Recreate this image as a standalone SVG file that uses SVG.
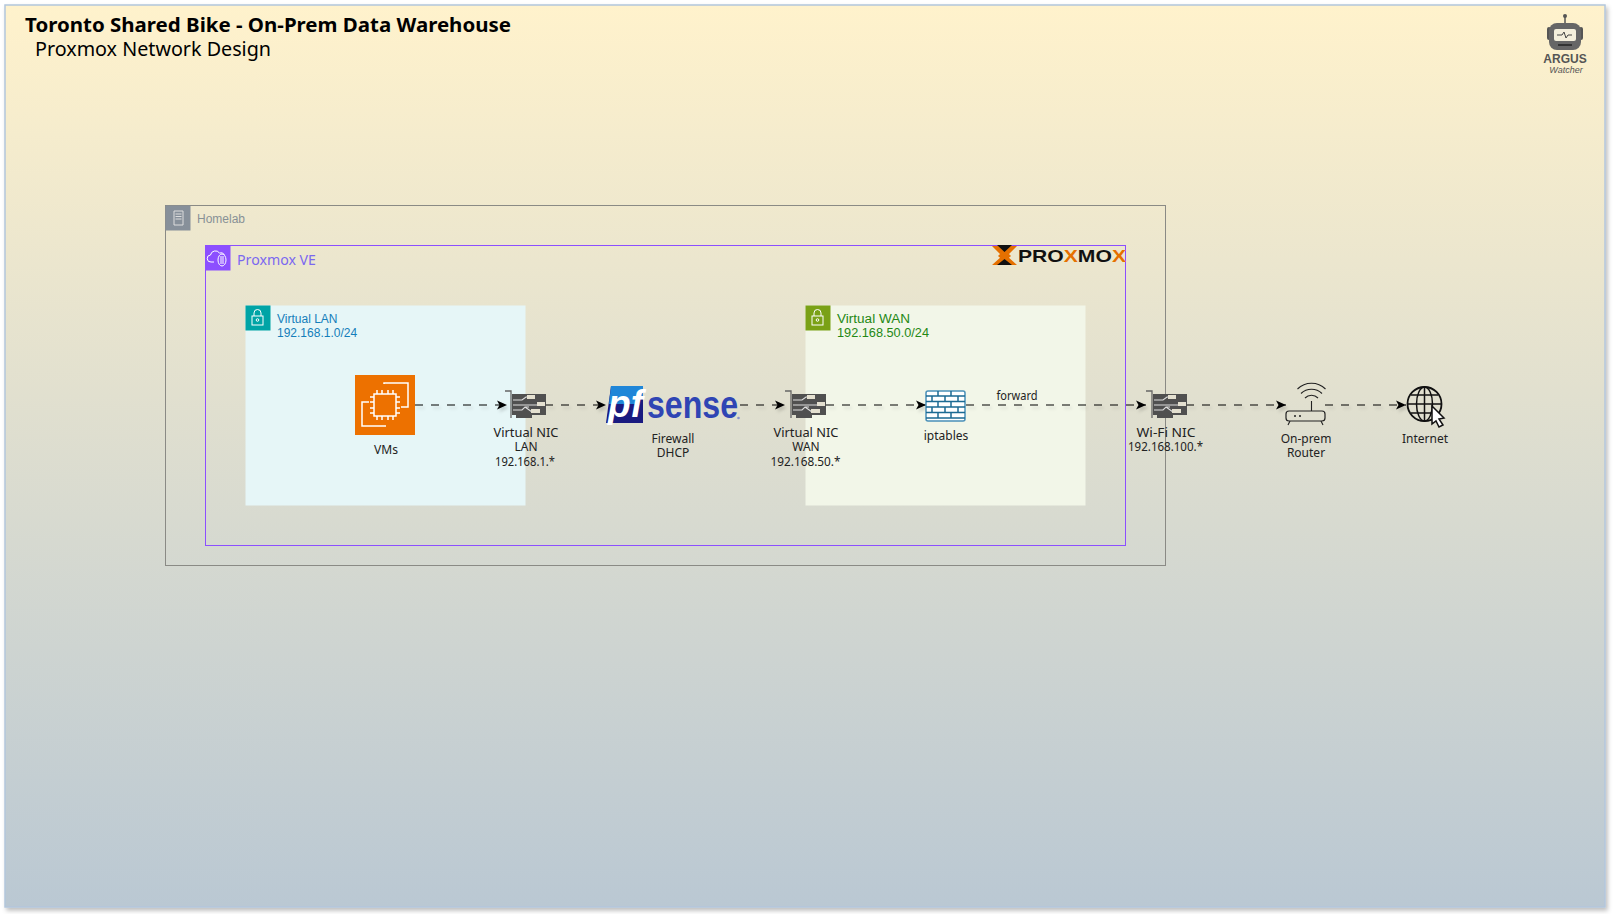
<svg xmlns="http://www.w3.org/2000/svg" width="1613" height="914" viewBox="0 0 1613 914">
<style>
text{font-family:"Noto Sans","DejaVu Sans",sans-serif}
.l{font-size:12px;fill:#222;text-anchor:middle}
.h{font-family:"Liberation Sans",Arial,sans-serif;font-size:12px}
.b{font-family:"Liberation Sans",Arial,sans-serif;font-weight:700}
.e{fill:none;stroke:#000;stroke-width:1.200;stroke-dasharray:8 8;marker-end:url(#a)}
.ic{fill:none;stroke:#fff;stroke-width:1}
</style>
<defs>
<linearGradient id="bg" x1="0" y1="0" x2="0" y2="1"><stop offset="0" stop-color="#fff2cc"/><stop offset="1" stop-color="#bac8d3"/></linearGradient>
<filter id="sh" x="-5%" y="-5%" width="110%" height="110%"><feDropShadow dx="2" dy="3" stdDeviation="2" flood-color="#000" flood-opacity=".25"/></filter>
<filter id="ls" filterUnits="userSpaceOnUse" x="400" y="380" width="1030" height="50"><feDropShadow dx="2" dy="3" stdDeviation="1.500" flood-color="#000" flood-opacity=".15"/></filter>
<marker id="a" markerWidth="11" markerHeight="10" refX="10" refY="5" orient="auto" markerUnits="userSpaceOnUse"><path d="M0 .5L10 5L0 9.500L2.500 5Z" fill="#000"/></marker>
<g id="nic">
<path d="M0 0H6V27" fill="none" stroke="#666" stroke-width="1.300"/>
<path d="M7 3H41V24H27V27H11V24H7Z" fill="#505050"/>
<path d="M8 9H17L21 6H24M8 14H32M8 19H17L20 16H24M20 16L27 21" stroke="#ddd" stroke-width="1.100" fill="none"/>
<path d="M22 4h8v4h-8zM32 11h8v4h-8zM26 18h9v4h-9z" fill="#e4e0d0"/>
</g>
</defs>

<g id="page"><rect x="5" y="5" width="1600" height="902" fill="url(#bg)" stroke="#b3c6dc" stroke-width="1.500" filter="url(#sh)"/></g>

<g id="title">
<text x="25" y="32" font-size="19" font-weight="700" fill="#000" textLength="486" lengthAdjust="spacingAndGlyphs">Toronto Shared Bike - On-Prem Data Warehouse</text>
<text x="35" y="56" font-size="19" fill="#000" textLength="236" lengthAdjust="spacingAndGlyphs">Proxmox Network Design</text>
</g>

<g id="homelab">
<rect x="165.500" y="205.500" width="1000" height="360" fill="none" stroke="#8a8a85" stroke-width="1"/>
<rect x="165.500" y="205.500" width="25" height="25" fill="#87909a"/>
<path d="M174 211h9v14h-9zM175.500 214h6M175.500 216.500h6M175.500 219h6" fill="none" stroke="#ddd" stroke-width="1"/>
<text class="h" x="197" y="223" fill="#879196">Homelab</text>
</g>

<g id="proxmox-ve">
<rect x="205.500" y="245.500" width="920" height="300" fill="none" stroke="#8c4fff" stroke-width="1"/>
<rect x="205.500" y="245.500" width="25" height="25" fill="#8c4fff"/>
<path class="ic" d="M214 262h-3a3.500 3.500 0 0 1 -.5-7 5 5 0 0 1 9-2 4 4 0 0 1 5 2"/>
<ellipse class="ic" cx="222" cy="260" rx="4" ry="6"/><path class="ic" d="M221 256v8M223 256v8"/>
<text x="237" y="265" font-size="14" fill="#7b68f0" textLength="79" lengthAdjust="spacingAndGlyphs">Proxmox VE</text>
<g id="proxmox-logo">
<path d="M992 246H1001L1011 256L1001 265H992L1002 256Z" fill="#e57000"/>
<path d="M1017 246H1008L998 256L1008 265H1017L1007 256Z" fill="#e57000"/>
<path d="M997 245H1012L1004.500 252Z M997 265H1012L1004.500 259Z" fill="#111"/>
<text class="b" x="1018" y="262" font-size="17" fill="#111" textLength="108" lengthAdjust="spacingAndGlyphs">PRO<tspan fill="#e57000">X</tspan>MO<tspan fill="#e57000">X</tspan></text>
</g>
</g>

<g id="virtual-lan">
<rect x="245.500" y="305.500" width="280" height="200" fill="#e6f6f7"/>
<rect x="245.500" y="305.500" width="25" height="25" fill="#00a4a6"/>
<rect class="ic" x="252" y="316" width="11" height="9"/><path class="ic" d="M254 316v-3a3.500 3.500 0 0 1 7 0v3"/><circle class="ic" cx="257.500" cy="320" r="1.300"/>
<text class="h" x="277" y="323" fill="#147eba">Virtual LAN</text>
<text class="h" x="277" y="337" fill="#147eba">192.168.1.0/24</text>
</g>

<g id="virtual-wan">
<rect x="805.500" y="305.500" width="280" height="200" fill="#f2f6e8"/>
<rect x="805.500" y="305.500" width="25" height="25" fill="#7aa116"/>
<rect class="ic" x="812" y="316" width="11" height="9"/><path class="ic" d="M814 316v-3a3.500 3.500 0 0 1 7 0v3"/><circle class="ic" cx="817.500" cy="320" r="1.300"/>
<text class="h" x="837" y="323" fill="#248814" textLength="73" lengthAdjust="spacingAndGlyphs">Virtual WAN</text>
<text class="h" x="837" y="337" fill="#248814" textLength="92" lengthAdjust="spacingAndGlyphs">192.168.50.0/24</text>
</g>

<g id="connectors" filter="url(#ls)">
<path class="e" d="M415 405H507"/>
<path class="e" d="M545 405H606"/>
<path class="e" d="M740 405H785"/>
<path class="e" d="M826 405H926"/>
<path class="e" d="M966 405H1146"/>
<path class="e" d="M1186 405H1286"/>
<path class="e" d="M1325 405H1406"/>
</g>
<text id="forward-label" class="l" x="1017" y="400" textLength="41" lengthAdjust="spacingAndGlyphs">forward</text>

<g id="vms">
<rect x="355" y="375" width="60" height="60" fill="#ed7100"/>
<g fill="none" stroke="#fff" stroke-width="1.500">
<rect x="374" y="394" width="22" height="22"/>
<path d="M384 384V383H408V407H401M386 426H362V402H369"/>
<path d="M377 394v-4M382 394v-4M388 394v-4M393 394v-4M377 416v4M382 416v4M388 416v4M393 416v4M374 397h-4M374 402h-4M374 408h-4M374 413h-4M396 397h4M396 402h4M396 408h4M396 413h4"/>
</g>
<text class="l" x="386" y="454" textLength="24" lengthAdjust="spacingAndGlyphs">VMs</text>
</g>

<g id="nic-lan">
<use href="#nic" x="505" y="391"/>
<text class="l" x="526" y="437" textLength="65" lengthAdjust="spacingAndGlyphs">Virtual NIC</text><text class="l" x="526" y="451">LAN</text><text class="l" x="525" y="466" textLength="60" lengthAdjust="spacingAndGlyphs">192.168.1.*</text>
</g>

<g id="pfsense">
<path d="M611 386H643V423H606Z" fill="#1a1a80"/>
<path d="M611 386H643V396L636 404H609Z" fill="#1f86d8"/>
<text class="b" x="608" y="417" font-size="38" font-style="italic" fill="#fff" textLength="35" lengthAdjust="spacingAndGlyphs">pf</text>
<text class="b" x="647" y="418" font-size="39" fill="#2f45b4" textLength="91" lengthAdjust="spacingAndGlyphs">sense</text>
<circle cx="738.500" cy="418" r="1.300" fill="#8a94c8"/>
<text class="l" x="673" y="443">Firewall</text><text class="l" x="673" y="457">DHCP</text>
</g>

<g id="nic-wan">
<use href="#nic" x="785" y="391"/>
<text class="l" x="806" y="437" textLength="65" lengthAdjust="spacingAndGlyphs">Virtual NIC</text><text class="l" x="806" y="451">WAN</text><text class="l" x="805.500" y="466" textLength="70" lengthAdjust="spacingAndGlyphs">192.168.50.*</text>
</g>

<g id="iptables">
<rect x="926" y="391" width="39" height="30" rx="2" fill="#fff" stroke="#4a90b8" stroke-width="1.500"/>
<path d="M926 396h39M926 401.500h39M926 407h39M926 412.500h39M926 418h39M938 391v5M951 391v5M932 396v5.500M945 396v5.500M958 396v5.500M938 401.500v5.500M951 401.500v5.500M932 407v5.500M945 407v5.500M958 407v5.500M938 412.500v5.500M951 412.500v5.500" fill="none" stroke="#1b6a93" stroke-width="1.500"/>
<text class="l" x="946" y="440">iptables</text>
</g>

<g id="nic-wifi">
<use href="#nic" x="1146" y="391"/>
<text class="l" x="1166" y="437" textLength="59" lengthAdjust="spacingAndGlyphs">Wi-Fi NIC</text><text class="l" x="1165.500" y="451" textLength="75" lengthAdjust="spacingAndGlyphs">192.168.100.*</text>
</g>

<g id="router">
<rect x="1286" y="411" width="39" height="10" rx="3" fill="none" stroke="#222" stroke-width="1.200"/>
<path d="M1311.500 411V401M1290 421l-2 4M1321 421l2 4M1305 398a9 9 0 0 1 13 0M1301 393.500a15 15 0 0 1 21 0M1297.500 389a20 20 0 0 1 28 0" fill="none" stroke="#222" stroke-width="1.100"/>
<circle cx="1295" cy="416" r="1" fill="#222"/><circle cx="1300" cy="416" r="1" fill="#222"/>
<text class="l" x="1306" y="443">On-prem</text><text class="l" x="1306" y="457">Router</text>
</g>

<g id="internet">
<circle cx="1424.500" cy="404" r="17" fill="none" stroke="#111" stroke-width="1.800"/>
<path d="M1408 404H1441M1424.500 387V421M1411 395H1438M1411 413H1438" fill="none" stroke="#111" stroke-width="1.500"/>
<ellipse cx="1424.500" cy="404" rx="8" ry="17" fill="none" stroke="#111" stroke-width="1.500"/>
<path d="M1432 406L1444 418L1439 419L1443 425L1439 427L1436 421L1432 424Z" fill="#fff" stroke="#111" stroke-width="1.500"/>
<text class="l" x="1425" y="443">Internet</text>
</g>

<g id="argus-logo">
<circle cx="1565" cy="16" r="2" fill="#555"/><path d="M1565 17V23" stroke="#555" stroke-width="1.500"/>
<rect x="1547" y="27" width="4" height="13" rx="2" fill="#555"/><rect x="1579" y="27" width="4" height="13" rx="2" fill="#555"/>
<rect x="1549" y="23" width="32" height="27" rx="8" fill="#666"/>
<rect x="1554" y="29" width="22" height="12" rx="2" fill="#f4efdc"/>
<path d="M1557 35h5l2-3 2 6 2-3h4" fill="none" stroke="#444" stroke-width="1"/>
<rect x="1558" y="44" width="14" height="2" fill="#333"/>
<text class="b" x="1565" y="63" text-anchor="middle" font-size="12" fill="#555">ARGUS</text>
<text x="1566" y="73" text-anchor="middle" font-size="9" font-style="italic" fill="#555" style="font-family:'Liberation Sans',Arial,sans-serif">Watcher</text>
</g>
</svg>
